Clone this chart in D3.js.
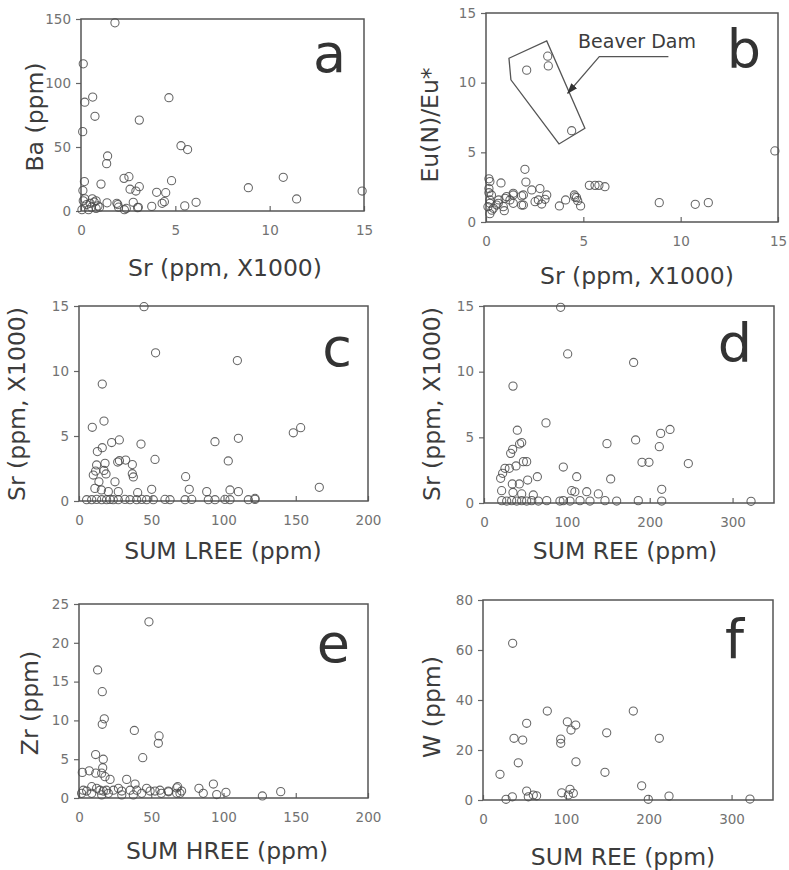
<!DOCTYPE html>
<html><head><meta charset="utf-8">
<script src="https://cdn.jsdelivr.net/npm/d3@7"></script>
<style>body{margin:0;background:#fff}svg{display:block}</style>
</head><body>
<svg id="chart" width="789" height="870"></svg>
<script>
// ---------- data ----------
// panel a: Sr (ppm, x1000) vs Ba (ppm)
const aSr = [1.8,0.12,0.2,0.62,0.74,4.66,3.09,0.09,5.3,5.65,1.41,1.36,0.18,1.06,2.28,2.54,4.8,2.6,2.91,3.09,4.01,4.49,4.42,4.3,8.87,10.72,11.43,14.9,5.5,6.1,3.75,3.0,2.77,1.95,1.99,1.38,0.1,0.12,0.3,0.55,0.8,0.7,0.4,0.98,0.8,0.05,0.2,0.6,0.9,2.4,2.3,0.48,1.9,3.04];
const aBa = [147,115,85,89,74,88.5,71,62,51,48,43,37,23,21,25.5,26.8,23.7,17,15.6,19,14.6,14.3,7.3,6,18.2,26.3,9.4,15.6,4,6.8,3.6,2.6,6.8,5,3,6.4,16,8,5,3,8,7,1,3,2,1,9.5,9.5,4,2,1,6,6,2.9];
// panel b: Sr vs Eu(N)/Eu*
const bSr = [2.09,3.17,3.2,4.4,14.84,2.0,2.05,0.77,2.35,2.77,3.12,3.03,2.86,2.52,1.83,1.40,1.83,1.23,1.06,0.89,0.94,0.63,0.38,0.2,0.2,0.15,0.15,0.15,0.1,0.2,0.3,3.77,4.09,4.54,4.56,4.71,4.86,5.31,5.6,5.8,6.11,8.9,10.75,11.42,2.69,1.92,1.4,1.92,1.4,0.98,0.55,0.65,0.28,0.2,4.65];
const bEu = [10.9,11.9,11.2,6.55,5.1,3.78,2.87,2.8,2.3,2.4,1.94,1.63,1.29,1.46,1.87,2.06,1.22,1.58,1.82,1.10,0.81,1.34,0.98,1.58,2.9,3.1,2.4,2.1,1.1,0.6,0.85,1.15,1.58,1.94,1.8,1.53,1.15,2.63,2.63,2.63,2.53,1.39,1.27,1.39,1.58,1.94,1.94,1.22,1.34,1.7,1.22,1.58,1.94,1.34,1.75];
// Beaver Dam outline and pointer (data units)
const beaverSr = [1.18,3.12,5.08,3.75,1.28];
const beaverEu = [11.75,13.0,6.73,5.6,10.2];
const pointerSr = [9.37,5.82,4.2];
const pointerEu = [11.87,11.87,9.24];
// panel c: SUM LREE vs Sr
const cLree = [45,53,109.6,16.1,17.3,9.2,12.7,16.1,22.6,27.9,42.9,94.1,110.3,26.8,28,32.3,36.9,36.9,37.6,52.6,103.3,73.8,24.9,12.2,18,11.5,17.3,9.9,18.7,13.8,11,15.5,20.3,27.2,40.6,50.3,76.3,88.4,104.5,110.3,121.8,148.3,153.4,166.3,
  5.3,8.8,12.2,15.7,19.1,21.5,23.7,27.2,31.8,35.3,39.9,43.4,46.8,51.4,59.5,63,73.4,78,89.5,94.1,101,104.5,117.2,121.8];
const cSr = [14.95,11.4,10.8,9.0,6.15,5.67,3.8,4.1,4.5,4.7,4.38,4.56,4.82,3.0,3.1,3.15,2.8,2.1,1.85,3.2,3.08,1.87,1.48,2.77,2.9,2.3,2.35,2.0,2.08,1.48,0.97,0.85,0.72,0.72,0.64,0.9,0.9,0.72,0.85,0.72,0.2,5.25,5.64,1.05,
  0.1,0.1,0.12,0.1,0.1,0.12,0.1,0.1,0.12,0.1,0.1,0.12,0.1,0.1,0.12,0.1,0.1,0.12,0.1,0.1,0.12,0.1,0.1,0.12];
// panel d: SUM REE vs Sr
const dRee = [92.5,101,180.6,35,74.8,40.2,148.4,183,213.2,224.5,211.6,190.7,199.1,246.6,95.7,111.9,152.9,214.5,322.3,45.5,43,34.6,32.2,47.5,51.5,38.6,30.6,25.3,22.5,20.1,64.4,52.7,34.2,42.6,21.3,35,45.5,59.5,105.8,109.7,124,138,
  21.4,27.4,33.4,39.5,45.5,51.5,57.6,65.6,75.7,91.7,95.7,103.8,115.9,127.9,146,160.1,186.2,214.5];
const dSr = [14.9,11.35,10.7,8.9,6.1,5.54,4.52,4.8,5.3,5.6,4.29,3.1,3.1,3.0,2.74,2.0,1.83,1.04,0.13,4.6,4.5,4.09,3.78,3.15,3.15,2.82,2.64,2.64,2.26,1.88,2.0,1.75,1.45,1.45,0.94,0.8,0.69,0.61,0.94,0.85,0.86,0.69,
  0.18,0.15,0.18,0.15,0.18,0.15,0.18,0.15,0.18,0.15,0.18,0.15,0.18,0.15,0.18,0.15,0.18,0.15];
// panel e: SUM HREE vs Zr
const eHree = [48.4,12.9,16.1,17.5,16.1,38.3,55.4,54.9,44.1,11.5,16.8,2.3,7.1,11.6,16.4,15.7,18,21.5,33,38.8,93,139.6,83,68.3,126.9,101.7,95.3,86,69.9,62,3,5.3,8.8,12.2,14.5,16.8,19,20.3,23.8,27.3,29.6,35.4,40,43.4,46.8,49.2,52.6,56,61.8,67.6,71,67.6,8.8,1.8,29.6,37.6,15.7,57];
const eZr = [22.7,16.5,13.7,10.2,9.5,8.7,8.0,7.05,5.2,5.6,5.0,3.3,3.5,3.2,3.9,3.2,2.75,2.4,2.4,1.8,1.8,0.82,1.25,1.46,0.26,0.73,0.45,0.6,0.6,0.8,1.0,0.9,1.46,1.25,1.0,0.9,1.0,0.6,1.0,1.25,0.9,1.0,1.0,0.6,1.25,0.9,0.9,1.0,0.9,1.3,0.9,0.6,0.6,0.6,0.4,0.4,0.4,0.6];
// panel f: SUM REE vs W
const fRee = [35.8,77.6,181.4,52.7,101.8,111.9,106.2,149.3,37.4,47.9,93.8,93.8,212.8,42.6,112.2,147.2,20.5,191.5,35.4,27.8,52.7,60.7,64.7,95,105,109,103,199.5,224.5,322.2,54.7];
const fW = [62.7,35.6,35.6,30.7,31.3,30,28,26.9,24.7,24,24.4,22.7,24.7,14.9,15.3,11.1,10.3,5.7,1.3,0.3,3.6,2.0,1.7,2.9,4.3,2.7,2.0,0.3,1.6,0.4,1.3];

// tick labels
const ticksSr = [0,5,10,15];
const ticksBa = [0,50,100,150];
const ticksEu = [0,5,10,15];
const ticksLree = [0,50,100,150,200];
const ticksRee = [0,100,200,300];
const ticksZr = [0,5,10,15,20,25];
const ticksW = [0,20,40,60,80];

// ---------- layout ----------
const panels = [
  {letter:'a', xs:aSr, ys:aBa, xDom:[0,15], yDom:[0,150], xt:ticksSr, yt:ticksBa,
   xTitle:'Sr (ppm, X1000)', yTitle:'Ba (ppm)', box:[81,19,364,211],
   xtx:225, xty:276, ytx:43, yty:117, lx:346, ly:72},
  {letter:'b', xs:bSr, ys:bEu, xDom:[0,15], yDom:[0,15], xt:ticksSr, yt:ticksEu,
   xTitle:'Sr (ppm, X1000)', yTitle:'Eu(N)/Eu*', box:[486,13,778,222],
   xtx:637, xty:284, ytx:438, yty:125, lx:761, ly:68},
  {letter:'c', xs:cLree, ys:cSr, xDom:[0,200], yDom:[0,15], xt:ticksLree, yt:ticksEu,
   xTitle:'SUM LREE (ppm)', yTitle:'Sr (ppm, X1000)', box:[79,306,368,501],
   xtx:223, xty:559, ytx:25, yty:404, lx:352, ly:366},
  {letter:'d', xs:dRee, ys:dSr, xDom:[0,350], yDom:[0,15], xt:ticksRee, yt:ticksEu,
   xTitle:'SUM REE (ppm)', yTitle:'Sr (ppm, X1000)', box:[484,306,774,503],
   xtx:625, xty:559, ytx:440, yty:404, lx:752, ly:362},
  {letter:'e', xs:eHree, ys:eZr, xDom:[0,200], yDom:[0,25], xt:ticksLree, yt:ticksZr,
   xTitle:'SUM HREE (ppm)', yTitle:'Zr (ppm)', box:[79,604,368,798],
   xtx:227, xty:859, ytx:38, yty:703, lx:350, ly:662},
  {letter:'f', xs:fRee, ys:fW, xDom:[0,350], yDom:[0,80], xt:ticksRee, yt:ticksW,
   xTitle:'SUM REE (ppm)', yTitle:'W (ppm)', box:[483,600,773,800],
   xtx:623, xty:865, ytx:440, yty:707, lx:744, ly:658}
];

const FONT = '"DejaVu Sans", Verdana, sans-serif';
const svg = d3.select('#chart');

svg.append('defs').append('marker')
  .attr('id','arrow').attr('viewBox','0 0 10 10').attr('refX',9).attr('refY',5)
  .attr('markerWidth',11).attr('markerHeight',11).attr('markerUnits','userSpaceOnUse')
  .attr('orient','auto')
  .append('path').attr('d','M0,1.5 L10,5 L0,8.5 Z').attr('fill','#333');

panels.forEach(p => {
  const [L,T,R,B] = p.box;
  const x = d3.scaleLinear().domain(p.xDom).range([L,R]);
  const y = d3.scaleLinear().domain(p.yDom).range([B,T]);
  const g = svg.append('g');

  // x axis (ticks point inward)
  const xa = g.append('g').attr('transform',`translate(0,${B})`)
    .call(d3.axisBottom(x).tickValues(p.xt).tickSize(-5).tickPadding(14).tickFormat(d3.format('d')));
  // y axis (ticks point outward)
  const ya = g.append('g').attr('transform',`translate(${L},0)`)
    .call(d3.axisLeft(y).tickValues(p.yt).tickSize(5).tickPadding(5).tickFormat(d3.format('d')));
  [xa,ya].forEach(a => {
    a.select('.domain').remove();
    a.selectAll('line').attr('stroke','#666').attr('stroke-width',1.2);
    a.selectAll('text').attr('fill','#727272').style('font-family',FONT).style('font-size','13.5px');
  });

  // frame
  g.append('rect').attr('x',L).attr('y',T).attr('width',R-L).attr('height',B-T)
    .attr('fill','none').attr('stroke','#555').attr('stroke-width',1.5);

  // points
  g.append('g').selectAll('circle').data(d3.range(p.xs.length)).join('circle')
    .attr('cx', i => x(p.xs[i])).attr('cy', i => y(p.ys[i])).attr('r',4.1)
    .attr('fill','none').attr('stroke','#4a4a4a').attr('stroke-width',1.05).attr('stroke-opacity',0.85);

  // titles
  g.append('text').attr('x',p.xtx).attr('y',p.xty).attr('text-anchor','middle')
    .style('font-family',FONT).style('font-size','23.5px').attr('fill','#3c3c3c').text(p.xTitle);
  g.append('text').attr('transform',`translate(${p.ytx},${p.yty}) rotate(-90)`).attr('text-anchor','middle')
    .style('font-family',FONT).style('font-size','23.5px').attr('fill','#3c3c3c').text(p.yTitle);
  // panel letter
  g.append('text').attr('x',p.lx).attr('y',p.ly).attr('text-anchor','end')
    .style('font-family',FONT).style('font-size','54px').attr('fill','#333').text(p.letter);

  if (p.letter === 'b') {
    const line = d3.line().x(d => x(d[0])).y(d => y(d[1]));
    g.append('path').attr('d', line(beaverSr.map((v,i)=>[v,beaverEu[i]])) + 'Z')
      .attr('fill','none').attr('stroke','#555').attr('stroke-width',1.3);
    g.append('path').attr('d', line(pointerSr.map((v,i)=>[v,pointerEu[i]])))
      .attr('fill','none').attr('stroke','#555').attr('stroke-width',1.2).attr('marker-end','url(#arrow)');
    g.append('text').attr('x',637).attr('y',48).attr('text-anchor','middle')
      .style('font-family',FONT).style('font-size','19px').attr('fill','#3c3c3c').text('Beaver Dam');
  }
});
</script>
</body></html>
